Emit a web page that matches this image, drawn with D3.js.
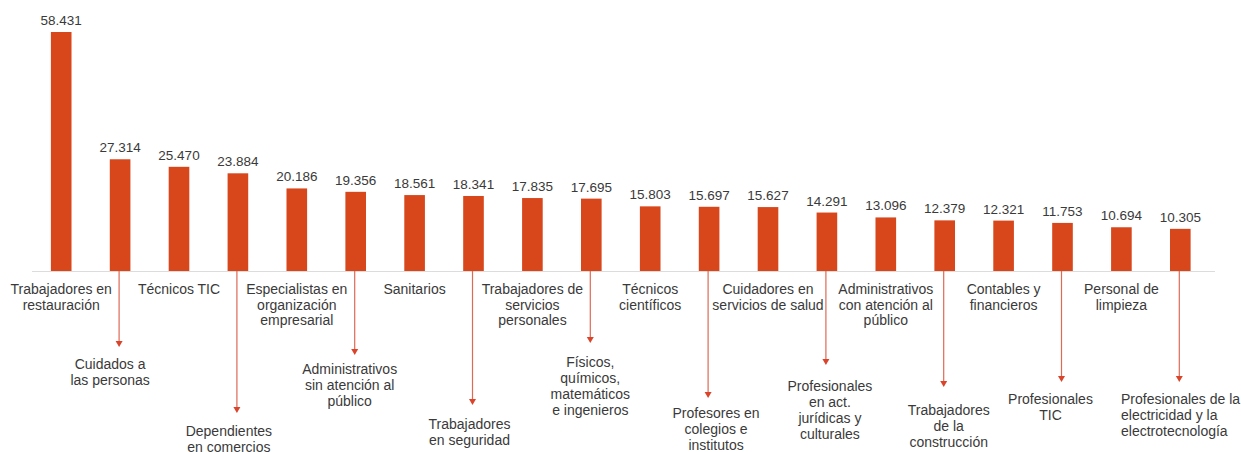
<!DOCTYPE html>
<html>
<head>
<meta charset="utf-8">
<script src="https://cdn.jsdelivr.net/npm/d3@7"></script>
<style>
  body { margin: 0; background: #fff; }
  .lbl { font: 14px "Liberation Sans", Arial, sans-serif; fill: #3a3a3a; }
  .val { font-size: 13.5px; }
</style>
</head>
<body>
<svg id="chart"></svg>
<script>
// occupations, in chart order
const categories = [
  "Trabajadores en\nrestauración",
  "Cuidados a\nlas personas",
  "Técnicos TIC",
  "Dependientes\nen comercios",
  "Especialistas en\norganización\nempresarial",
  "Administrativos\nsin atención al\npúblico",
  "Sanitarios",
  "Trabajadores\nen seguridad",
  "Trabajadores de\nservicios\npersonales",
  "Físicos,\nquímicos,\nmatemáticos\ne ingenieros",
  "Técnicos\ncientíficos",
  "Profesores en\ncolegios e\ninstitutos",
  "Cuidadores en\nservicios de salud",
  "Profesionales\nen act.\njurídicas y\nculturales",
  "Administrativos\ncon atención al\npúblico",
  "Trabajadores\nde la\nconstrucción",
  "Contables y\nfinancieros",
  "Profesionales\nTIC",
  "Personal de\nlimpieza",
  "Profesionales de la\nelectricidad y la\nelectrotecnología"
]
const values = [58431, 27314, 25470, 23884, 20186, 19356, 18561, 18341, 17835, 17695,
                15803, 15697, 15627, 14291, 13096, 12379, 12321, 11753, 10694, 10305]

// callouts for the labels hanging below the axis:
// arrow tip y, first text baseline y, horizontal nudge of the text
const calloutTip  = [347, 413, 355, 405, 343, 398, 365, 387, 382, 382]
const calloutText = [369, 436, 374, 429, 367, 418, 391, 415, 404, 404]
const calloutDx   = [-10, -9, -6, -4, -1, 7, 3, 4, -12, 0]

const width = 1241, height = 452
const baseline = 271
const lineTop = 15.6, lineHang = 16

const svg = d3.select("#chart").attr("width", width).attr("height", height)

const x = d3.scaleBand()
  .domain(d3.range(categories.length))
  .range([31.75, 1209.75])
  .paddingInner(0.65)
  .paddingOuter(0.325)

const y = d3.scaleLinear()
  .domain([0, d3.max(values)])
  .range([baseline, 32])

const fmt = d3.formatLocale({decimal: ",", thousands: ".", grouping: [3], currency: ["", ""]}).format(",d")
const cx = i => x(i) + x.bandwidth() / 2

// axis line
svg.append("line")
  .attr("x1", 32).attr("x2", 1215)
  .attr("y1", baseline + 0.5).attr("y2", baseline + 0.5)
  .attr("stroke", "#dcdcdc").attr("stroke-width", 1.2)

// bars
svg.selectAll(".bar")
    .data(values)
  .enter().append("rect")
    .attr("class", "bar")
    .attr("x", (d, i) => x(i))
    .attr("width", x.bandwidth())
    .attr("y", d => y(d))
    .attr("height", d => baseline - y(d))
    .attr("fill", "#d8461b")

// value labels
svg.selectAll(".val")
    .data(values)
  .enter().append("text")
    .attr("class", "lbl val")
    .attr("x", (d, i) => cx(i))
    .attr("y", d => y(d) - 7)
    .attr("text-anchor", "middle")
    .text(fmt)

function multiline(sel, lines, x0, y0, anchor, lh) {
  const t = sel.append("text")
    .attr("class", "lbl")
    .attr("text-anchor", anchor)
  lines.forEach((s, k) => {
    t.append("tspan").attr("x", x0).attr("y", y0 + k * lh).text(s)
  })
  return t
}

// labels just under the axis (even positions)
categories.forEach((c, i) => {
  if (i % 2 == 0) {
    multiline(svg, c.split("\n"), cx(i), 294, "middle", lineTop)
  }
})

// hanging labels with arrows (odd positions)
categories.forEach((c, i) => {
  if (i % 2 == 1) {
    const k = (i - 1) / 2
    const tip = calloutTip[k]
    const ax = cx(i) - 1
    svg.append("line")
      .attr("x1", ax).attr("x2", ax)
      .attr("y1", baseline).attr("y2", tip - 4)
      .attr("stroke", "#dd6a55").attr("stroke-width", 1.2)
    svg.append("path")
      .attr("d", `M${ax - 3.5},${tip - 6}L${ax + 3.5},${tip - 6}L${ax},${tip}Z`)
      .attr("fill", "#d9442a")
    const last = i == categories.length - 1
    multiline(svg, c.split("\n"), last ? 1121 : cx(i) + calloutDx[k], calloutText[k],
              last ? "start" : "middle", lineHang)
  }
})
</script>
</body>
</html>
